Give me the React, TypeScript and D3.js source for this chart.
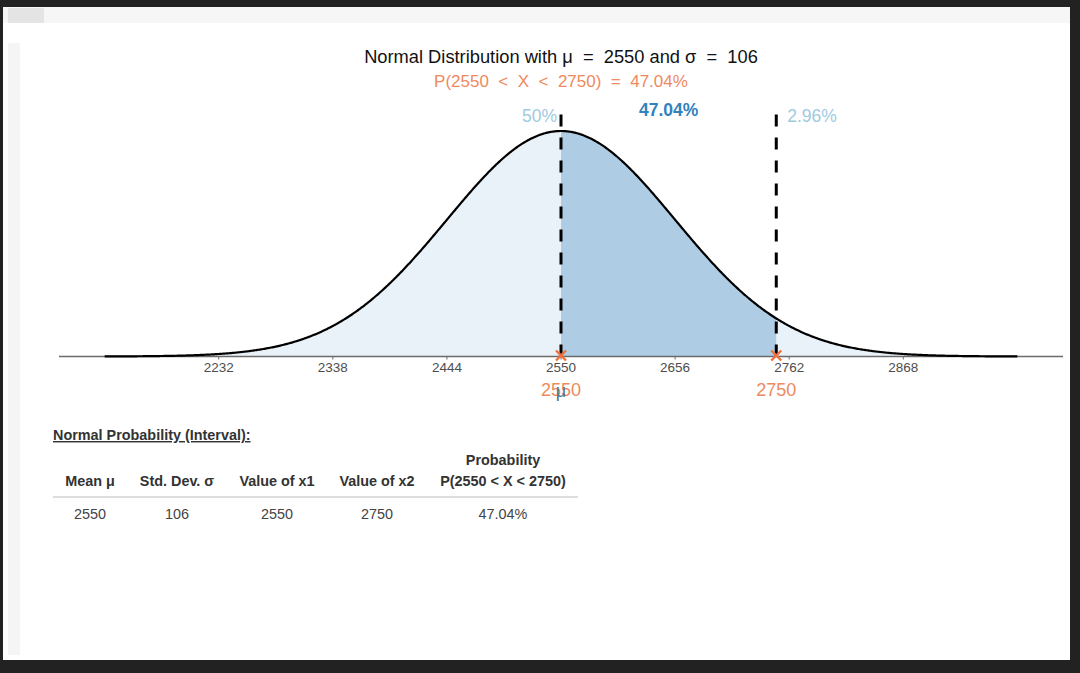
import React from "react";
import * as d3 from "d3";

const MU = 2550;
const SIGMA = 106;
const X1 = 2550;
const X2 = 2750;
const areaLabels = ["50%", "47.04%", "2.96%"];
const tickValues = [2232, 2338, 2444, 2550, 2656, 2762, 2868];
const tableHeaders = ["Mean \u03bc", "Std. Dev. \u03c3", "Value of x1", "Value of x2", "P(2550 < X < 2750)"];
const tableRow = ["2550", "106", "2550", "2750", "47.04%"];
const tableCols = [90, 177, 277, 377, 503];

const W = 1080;
const H = 673;
const FONT = "Arial, 'Liberation Sans', Helvetica, sans-serif";
const ORANGE = "#ee8a5e";
const XMARK = "#f0703c";

function dnorm(x: number) {
  const z = (x - MU) / SIGMA;
  return Math.exp(-0.5 * z * z) / (SIGMA * Math.sqrt(2 * Math.PI));
}

export default function App() {
  const lo = MU - 4 * SIGMA;
  const hi = MU + 4 * SIGMA;
  const pad = (hi - lo) * 0.05;
  const x = d3.scaleLinear().domain([lo - pad, hi + pad]).range([59, 1063]);
  const peak = dnorm(MU);
  const y = d3.scaleLinear().domain([0, peak]).range([356.5, 131]);

  const pts = d3.range(0, 801).map((i) => lo + ((hi - lo) * i) / 800);
  const line = d3.line<number>().x((d) => x(d)).y((d) => y(dnorm(d)));
  const area = d3.area<number>().x((d) => x(d)).y0(y(0)).y1((d) => y(dnorm(d)));
  const mid = pts.filter((d) => d >= X1 && d <= X2).concat([X2]);
  const left = pts.filter((d) => d <= X1).concat([X1]);
  const right = [X2].concat(pts.filter((d) => d >= X2));

  const base = y(0);
  const lineTop = 108;

  const xmark = (cx: number, key: string) => (
    <g key={key} stroke={XMARK} strokeWidth={2.4}>
      <line x1={cx - 5} y1={base - 6} x2={cx + 5} y2={base + 4} />
      <line x1={cx - 5} y1={base + 4} x2={cx + 5} y2={base - 6} />
    </g>
  );

  return (
    <svg width={W} height={H} style={{ position: "absolute", left: 0, top: 0, display: "block" }} fontFamily={FONT}>
      <rect x={0} y={0} width={W} height={H} fill="#222222" />
      <rect x={3} y={7} width={1067} height={653} fill="#ffffff" />
      <rect x={3} y={7} width={1067} height={16} fill="#f6f6f6" />
      <rect x={8} y={8} width={36} height={15} fill="#e4e4e4" />
      <rect x={8} y={43} width={12} height={612} fill="#f5f5f5" />

      {/* title */}
      <text x={561} y={63} textAnchor="middle" fontSize={18.3} fill="#111" style={{ whiteSpace: "pre" }}>
        {"Normal Distribution with \u03bc  =  2550 and \u03c3  =  106"}
      </text>
      <text x={561} y={87} textAnchor="middle" fontSize={17} fill={ORANGE} style={{ whiteSpace: "pre" }}>
        {"P(2550  <  X  <  2750)  =  47.04%"}
      </text>

      {/* areas */}
      <path d={area(left) || ""} fill="#e9f1f9" />
      <path d={area(right) || ""} fill="#e9f1f9" />
      <path d={area(mid) || ""} fill="#aecde4" />

      {/* axis */}
      <line x1={59} x2={1063} y1={base} y2={base} stroke="#6b6b6b" strokeWidth={1.4} />
      {tickValues.map((t) => (
        <g key={t}>
          <line x1={x(t)} x2={x(t)} y1={base} y2={base + 3} stroke="#6b6b6b" strokeWidth={1} />
          <text x={x(t)} y={372} textAnchor="middle" fontSize={13.5} fill="#4d4d4d">{t}</text>
        </g>
      ))}

      {/* curve */}
      <path d={line(pts) || ""} fill="none" stroke="#000" strokeWidth={2.2} />

      {/* dashed lines */}
      {[X1, X2].map((v) => (
        <line key={v} x1={x(v)} x2={x(v)} y1={base} y2={lineTop} stroke="#000" strokeWidth={3} strokeDasharray="12,11" />
      ))}

      {xmark(x(X1), "m1")}
      {xmark(x(X2), "m2")}

      {/* area labels */}
      <text x={x(X1) - 4} y={122} textAnchor="end" fontSize={17.5} fill="#9ecae1">{areaLabels[0]}</text>
      <text x={x((X1 + X2) / 2)} y={116} textAnchor="middle" fontSize={17.5} fontWeight="bold" fill="#3182bd">{areaLabels[1]}</text>
      <text x={x(X2) + 11} y={122} textAnchor="start" fontSize={17.5} fill="#9ecae1">{areaLabels[2]}</text>

      {/* x values below axis */}
      <text x={x(X1)} y={396} textAnchor="middle" fontSize={18} fill={ORANGE}>{X1}</text>
      <text x={x(X2)} y={396} textAnchor="middle" fontSize={18} fill={ORANGE}>{X2}</text>
      <text x={x(MU)} y={397} textAnchor="middle" fontSize={18} fill="#4f7396">{"\u03bc"}</text>

      {/* table */}
      <text x={53} y={440} fontSize={14.4} fontWeight="bold" fill="#333" textDecoration="underline">
        Normal Probability (Interval):
      </text>
      <text x={tableCols[4]} y={465} textAnchor="middle" fontSize={14.4} fontWeight="bold" fill="#333">Probability</text>
      {tableHeaders.map((h, i) => (
        <text key={h} x={tableCols[i]} y={486} textAnchor="middle" fontSize={14.4} fontWeight="bold" fill="#333">{h}</text>
      ))}
      <line x1={53} x2={578} y1={497} y2={497} stroke="#dddddd" strokeWidth={2} />
      {tableRow.map((v, i) => (
        <text key={i} x={tableCols[i]} y={519} textAnchor="middle" fontSize={14.4} fill="#444">{v}</text>
      ))}
    </svg>
  );
}
